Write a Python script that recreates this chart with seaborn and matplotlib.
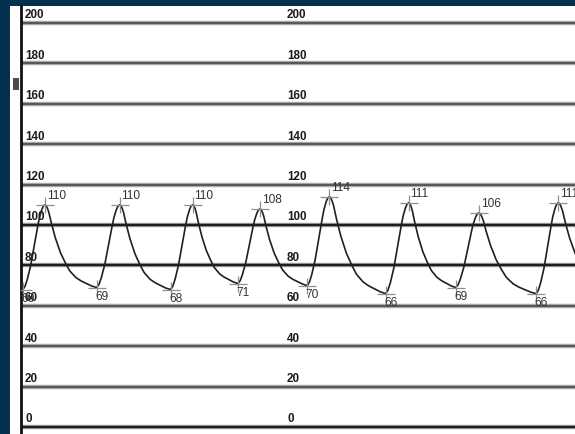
import numpy as np
import pandas as pd
import matplotlib
matplotlib.use("Agg")
import matplotlib.pyplot as plt
from matplotlib.patches import Rectangle
import seaborn as sns

# ---- data (time in s, pressure in mmHg) ----
trough_t = [0.02, 0.82, 1.62, 2.35, 3.10, 3.95, 4.71, 5.58]
trough_v = [68, 69, 68, 71, 70, 66, 69, 66]
trough_lbl = ["60", "69", "68", "71", "70", "66", "69", "66"]
peak_t = [0.26, 1.07, 1.86, 2.59, 3.34, 4.20, 4.96, 5.82]
peak_v = [110, 110, 110, 108, 114, 111, 106, 111]
peak_lbl = ["110", "110", "110", "108", "114", "111", "106", "111"]
# beats just outside the visible window
prev_peak = (-0.45, 110)
next_trough = (6.42, 68)

# beat shape read from one beat (fraction of segment time, fraction of amplitude)
rise_u = [0, 0.1, 0.2, 0.35, 0.5, 0.65, 0.75, 0.85, 0.92, 1.0]
rise_f = [0, 0.04, 0.12, 0.28, 0.5, 0.72, 0.85, 0.94, 0.985, 1.0]
fall_u = [0, 0.03, 0.07, 0.13, 0.2, 0.3, 0.4, 0.48, 0.6, 0.7, 0.8, 0.9, 1.0]
fall_f = [1, 0.985, 0.92, 0.76, 0.6, 0.42, 0.29, 0.2, 0.12, 0.08, 0.05, 0.02, 0]

grid_vals = [0, 20, 40, 60, 80, 100, 120, 140, 160, 180, 200]

# ---- build waveform ----
ts, vs = [], []
keys = [prev_peak]
for a, b, c, d in zip(trough_t, trough_v, peak_t, peak_v):
    keys.append((a, b))
    keys.append((c, d))
keys.append(next_trough)
for i in range(len(keys) - 1):
    (t0, v0), (t1, v1) = keys[i], keys[i + 1]
    u = np.linspace(0, 1, 40, endpoint=False)
    if v1 > v0:  # upstroke
        f = np.interp(u, rise_u, rise_f)
        v = v0 + f * (v1 - v0)
    else:  # decay
        f = np.interp(u, fall_u, fall_f)
        v = v1 + f * (v0 - v1)
    ts.extend(t0 + u * (t1 - t0))
    vs.extend(v)
ts.append(keys[-1][0]); vs.append(keys[-1][1])
wave = pd.DataFrame({"t": ts, "p": vs})

# ---- figure ----
W, H = 575, 435
fig = plt.figure(figsize=(W / 100, H / 100), dpi=100)
fig.patch.set_facecolor("#04314f")
fig.patches.append(Rectangle((10 / W, 0), 565 / W, 428 / H, transform=fig.transFigure,
                             facecolor="white", edgecolor="none", zorder=0))
fig.patches.append(Rectangle((13 / W, (H - 91) / H), 6 / W, 12 / H, transform=fig.transFigure,
                             facecolor="#4a4a4a", edgecolor="none", zorder=1))

ax = fig.add_axes([21 / W, 0, 554 / W, 428 / H])
ax.set_zorder(5)
ax.set_facecolor("none")
px_per_s = 554 / 6.0
ax.set_xlim(0, 6.0)
ax.set_ylim(-3.47, 208.4)

for s in ["top", "right", "bottom"]:
    ax.spines[s].set_visible(False)
ax.spines["left"].set_linewidth(2.0)
ax.spines["left"].set_color("#111111")
ax.set_xticks([]); ax.set_yticks([])

gridfont = ["Liberation Sans Narrow", "Liberation Sans", "DejaVu Sans"]
for g in grid_vals:
    dark = g in (80, 100, 0)
    ax.axhline(g, color="#a8a8a8", lw=3.2, zorder=1)
    ax.axhline(g, color="#1e1e1e" if dark else "#484848", lw=1.7 if dark else 1.2, zorder=2)
    for xpx in (25, 287):
        ax.annotate(str(g), xy=((xpx - 21) / px_per_s, g), xytext=(0, 1.8),
                    textcoords="offset points", ha="left", va="bottom",
                    fontsize=8.4, fontweight="bold", color="#1a1a1a",
                    family=gridfont, zorder=3)

sns.lineplot(data=wave, x="t", y="p", ax=ax, color="#202020", lw=1.2,
             estimator=None, sort=False, zorder=5)
ax.set_xlabel(""); ax.set_ylabel("")

pts_t = peak_t + trough_t
pts_v = peak_v + trough_v
ax.plot(pts_t, pts_v, ls="none", marker="_", ms=13, mew=0.9, color="#8f8f8f", zorder=6)
ax.plot(pts_t, pts_v, ls="none", marker="|", ms=12, mew=0.9, color="#8f8f8f", zorder=6)

lblfont = ["Liberation Sans Narrow", "Liberation Sans", "DejaVu Sans"]
for t, v, s in zip(peak_t, peak_v, peak_lbl):
    ax.annotate(s, xy=(t, v), xytext=(1.2, 2.6), textcoords="offset points",
                ha="left", va="bottom", fontsize=8.6, color="#333333", family=lblfont, zorder=7)
for t, v, s in zip(trough_t, trough_v, trough_lbl):
    ax.annotate(s, xy=(t, v), xytext=(-1.2, -1.5), textcoords="offset points",
                ha="left", va="top", fontsize=8.6, color="#333333", family=lblfont, zorder=7)

fig.savefig("out.png", dpi=100, facecolor=fig.get_facecolor())
